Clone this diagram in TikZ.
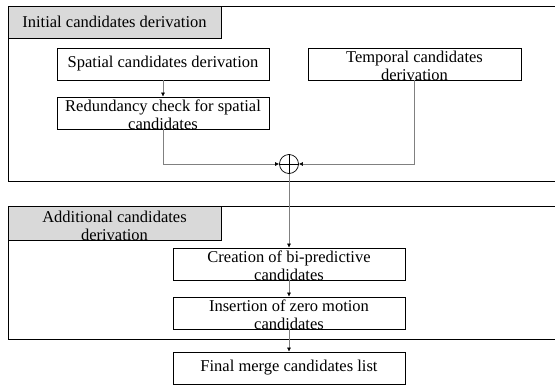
\documentclass[tikz,border=0pt]{standalone}
\usepackage{fontspec}
\setmainfont{Liberation Serif}
\usepackage{tikz}
\usetikzlibrary{arrows.meta}

\begin{document}
\begin{tikzpicture}[x=1pt,y=-1pt]
	\useasboundingbox (0,0) rectangle (555,386);
	\tikzstyle{stage}=[draw,rectangle,inner sep=0pt,minimum width=212,minimum height=32,align=center,line width=0.7pt,font=\fontsize{16.5}{18}\selectfont];
	\tikzstyle{twoline}=[text height=32pt,text depth=0pt];
	\tikzstyle{tab}=[stage,fill=black!15,minimum width=213];
	\tikzstyle{flow}=[-{Latex[black,length=4pt,width=4pt]},draw=black!50,line width=0.6pt];
	% outer frames, open to the right
	\draw[line width=0.8pt] (556,6) -| (8,181) -- (556,181);
	\draw[line width=0.8pt] (556,206) -| (8,339) -- (556,339);
	\node[tab] (tabinit) at (114.5,22) {Initial candidates derivation};
	\node[tab,twoline,text height=34pt,minimum height=34] (tabadd) at (114.5,223) {Additional candidates\\derivation};
	\node[stage] (spatial) at (163,64) {Spatial candidates derivation};
	\node[stage,twoline] (redund) at (163,113) {Redundancy check for spatial\\candidates};
	\node[stage,twoline,minimum width=213] (temporal) at (414.5,64) {Temporal candidates\\derivation};
	\node[draw,circle,inner sep=0pt,minimum size=19,line width=0.7pt] (sum) at (289,164) {};
	\node[stage,twoline,minimum width=232] (create) at (289,264) {Creation of bi-predictive\\candidates};
	\node[stage,twoline,minimum width=232] (insert) at (289,313) {Insertion of zero motion\\candidates};
	\node[stage,minimum width=232] (final) at (289,368) {Final merge candidates list};
	\draw[line width=0.7pt] (sum.north)--(sum.south) (sum.west)--(sum.east);
	\draw[flow] (spatial)--(redund);
	\draw[flow] (redund.south) |- (sum.west);
	\draw[flow] (temporal.south) |- (sum.east);
	\draw[flow] (sum)--(create);
	\draw[flow] (create)--(insert);
	\draw[flow] (insert)--(final);
\end{tikzpicture}
\end{document}
